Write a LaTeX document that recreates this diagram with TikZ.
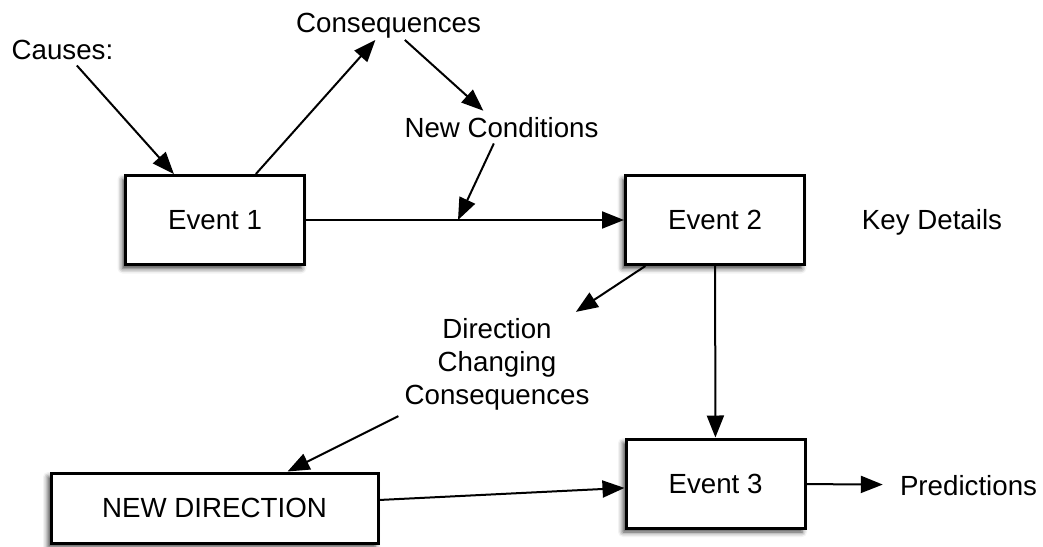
\documentclass[tikz,border=0pt]{standalone}
\usepackage{fontspec}
\setmainfont{Liberation Sans}
\usepackage{tikz}
\usetikzlibrary{arrows.meta}
\usetikzlibrary{shadows.blur}

\begin{document}
\begin{tikzpicture}[x=1pt, y=-1pt,
    font=\fontsize{27.7}{33}\selectfont,
    event/.style={draw, line width=3pt, fill=white,
      minimum width=179pt, minimum height=89pt,
      blur shadow={shadow xshift=-3pt, shadow yshift=-4pt,
        shadow blur radius=5pt, shadow opacity=75}},
    note/.style={inner sep=6pt},
    arr/.style={line width=2pt, -{Triangle[length=22pt, width=17pt]}}]
  \useasboundingbox (0, 0) rectangle (1043, 546);

  % boxes
  \node [event] (ev1) at (215, 220) {Event 1};
  \node [event] (ev2) at (715, 220) {Event 2};
  \node [event] (ev3) at (715.5, 483.5) {Event 3};
  \node [event, minimum width=327pt, minimum height=70pt] (newdir) at (214.5, 508) {NEW DIRECTION};

  % free labels
  \node [note, anchor=base] (causes) at (62.5, 59) {Causes:};
  \node [note, inner sep=2pt, anchor=base] (conseq) at (388.5, 32) {Consequences};
  \node [note, anchor=base] (newcond) at (501.5, 137) {New Conditions};
  \node [note, anchor=base] (keydet) at (932, 229) {Key Details};
  \node [note, align=center] (dircons) at (497, 364) {Direction\\Changing\\Consequences};
  \node [note, inner sep=17pt, anchor=base] (pred) at (968.5, 495) {Predictions};

  \coordinate (join) at (458, 220);

  % connectors
  \draw [arr] (causes) -- (ev1);
  \draw [arr] (ev1) -- (conseq);
  \draw [arr] (conseq) -- (newcond);
  \draw [arr] (newcond) -- (join);
  \draw [arr] (ev1) -- (ev2);
  \draw [arr] (ev2) -- (dircons);
  \draw [arr] (ev2) -- (ev3);
  \draw [arr] (dircons.south west) -- (newdir);
  \draw [arr] (newdir) -- (ev3);
  \draw [arr] (ev3) -- (pred);
\end{tikzpicture}
\end{document}
